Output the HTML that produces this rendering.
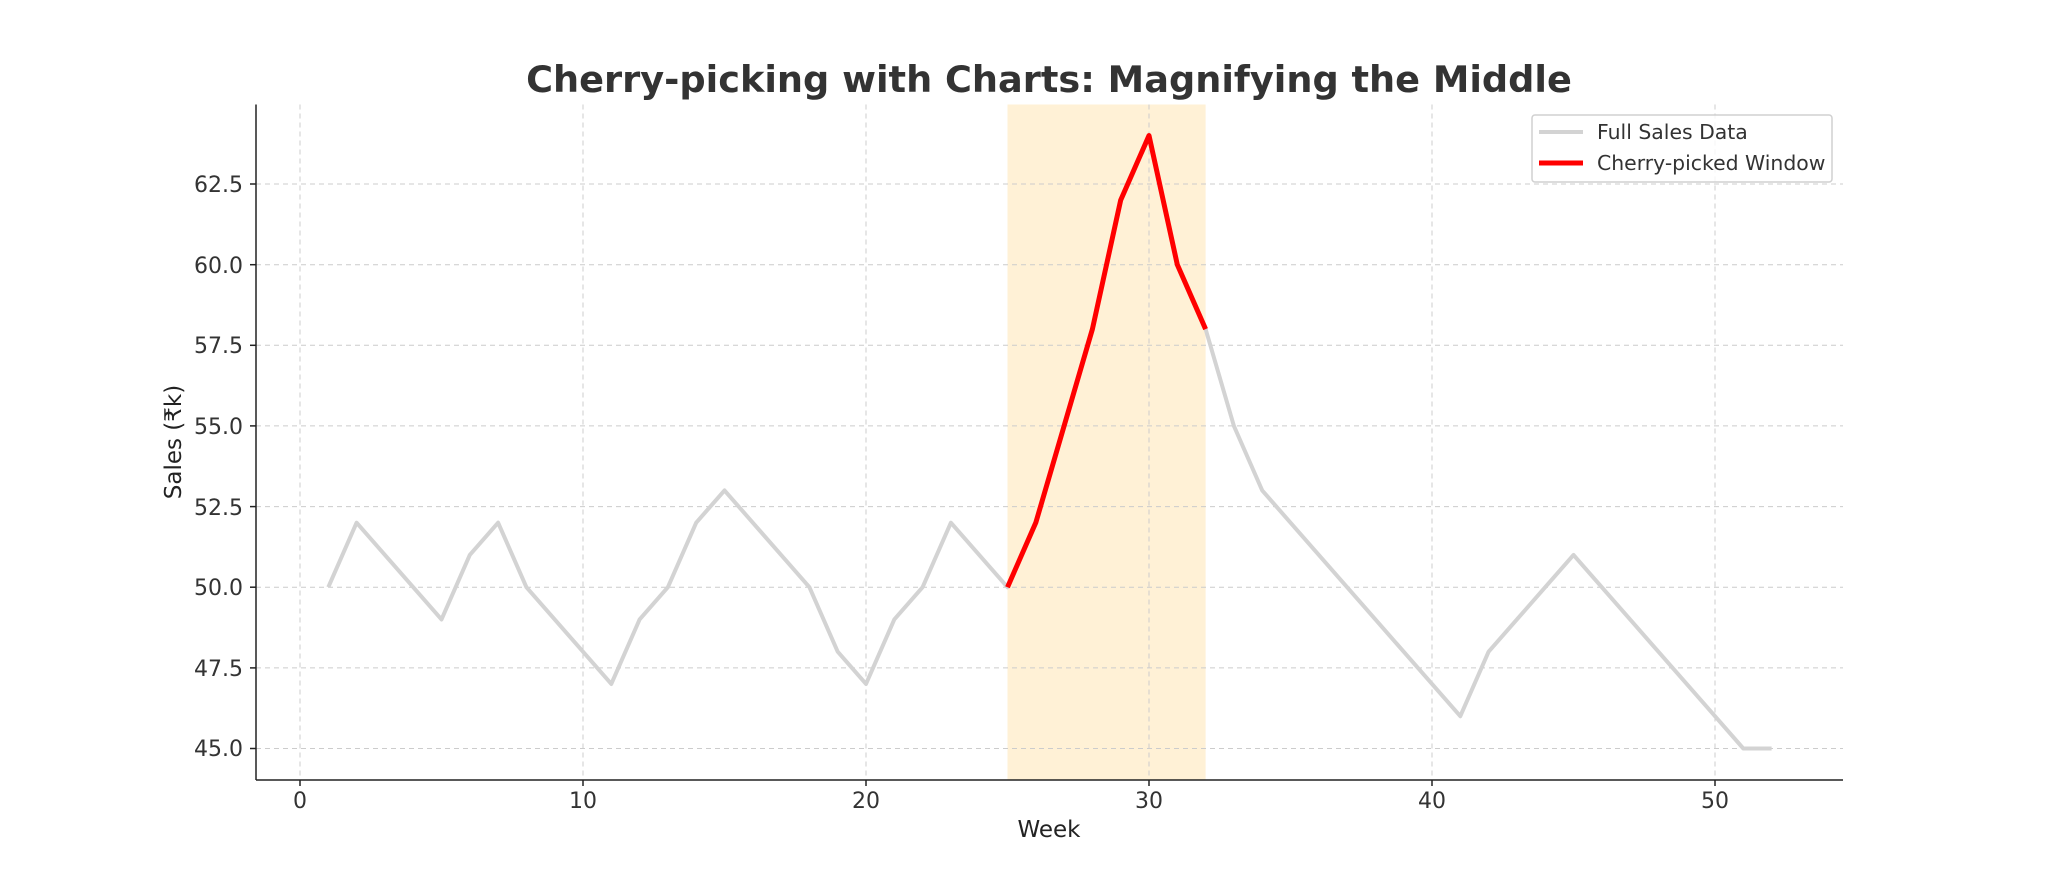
<!DOCTYPE html>
<html><head><meta charset="utf-8"><style>body{margin:0;background:#fff}svg{display:block}text{font-family:"DejaVu Sans","Liberation Sans",sans-serif;fill:#333}</style></head>
<body>
<svg width="2048" height="877" viewBox="0 0 2048 877" xmlns="http://www.w3.org/2000/svg">
<rect width="2048" height="877" fill="#fff"/>
<rect x="1007.5" y="104.5" width="198.1" height="675.5" fill="#ffe5b4" fill-opacity="0.55"/>
<g stroke="#cccccc" stroke-width="1" stroke-dasharray="5,4">
<line x1="300" y1="104.5" x2="300" y2="780"/><line x1="583" y1="104.5" x2="583" y2="780"/><line x1="866" y1="104.5" x2="866" y2="780"/><line x1="1149" y1="104.5" x2="1149" y2="780"/><line x1="1432" y1="104.5" x2="1432" y2="780"/><line x1="1715" y1="104.5" x2="1715" y2="780"/>
<line x1="256" y1="748.5" x2="1843" y2="748.5"/><line x1="256" y1="667.9" x2="1843" y2="667.9"/><line x1="256" y1="587.2" x2="1843" y2="587.2"/><line x1="256" y1="506.6" x2="1843" y2="506.6"/><line x1="256" y1="425.9" x2="1843" y2="425.9"/><line x1="256" y1="345.3" x2="1843" y2="345.3"/><line x1="256" y1="264.7" x2="1843" y2="264.7"/><line x1="256" y1="184" x2="1843" y2="184"/>
</g>
<g transform="translate(300,748.5) scale(28.3,-32.26) translate(0,-45)" fill="none" stroke-linejoin="round">
<polyline vector-effect="non-scaling-stroke" stroke="#d3d3d3" stroke-width="4" points="1,50 2,52 3,51 4,50 5,49 6,51 7,52 8,50 9,49 10,48 11,47 12,49 13,50 14,52 15,53 16,52 17,51 18,50 19,48 20,47 21,49 22,50 23,52 24,51 25,50 26,52 27,55 28,58 29,62 30,64 31,60 32,58 33,55 34,53 35,52 36,51 37,50 38,49 39,48 40,47 41,46 42,48 43,49 44,50 45,51 46,50 47,49 48,48 49,47 50,46 51,45 52,45"/>
<polyline vector-effect="non-scaling-stroke" stroke="#ff0000" stroke-width="5" points="25,50 26,52 27,55 28,58 29,62 30,64 31,60 32,58"/>
</g>
<g stroke="#222" stroke-width="1.5">
<line x1="256" y1="104.5" x2="256" y2="780"/><line x1="256" y1="780" x2="1843" y2="780"/>
<line x1="300" y1="780" x2="300" y2="786"/><line x1="583" y1="780" x2="583" y2="786"/><line x1="866" y1="780" x2="866" y2="786"/><line x1="1149" y1="780" x2="1149" y2="786"/><line x1="1432" y1="780" x2="1432" y2="786"/><line x1="1715" y1="780" x2="1715" y2="786"/>
<line x1="250" y1="748.5" x2="256" y2="748.5"/><line x1="250" y1="667.9" x2="256" y2="667.9"/><line x1="250" y1="587.2" x2="256" y2="587.2"/><line x1="250" y1="506.6" x2="256" y2="506.6"/><line x1="250" y1="425.9" x2="256" y2="425.9"/><line x1="250" y1="345.3" x2="256" y2="345.3"/><line x1="250" y1="264.7" x2="256" y2="264.7"/><line x1="250" y1="184" x2="256" y2="184"/>
</g>
<g font-size="22" text-anchor="middle" style="fill:#222">
<text x="300" y="808">0</text><text x="583" y="808">10</text><text x="866" y="808">20</text><text x="1149" y="808">30</text><text x="1432" y="808">40</text><text x="1715" y="808">50</text>
</g>
<g font-size="22" text-anchor="end" style="fill:#222">
<text x="243" y="756">45.0</text><text x="243" y="676">47.5</text><text x="243" y="595">50.0</text><text x="243" y="515">52.5</text><text x="243" y="434">55.0</text><text x="243" y="353">57.5</text><text x="243" y="273">60.0</text><text x="243" y="192">62.5</text>
</g>
<text x="1049" y="837" font-size="23" text-anchor="middle" style="fill:#222">Week</text>
<text transform="translate(181,442) rotate(-90)" font-size="23" text-anchor="middle" style="fill:#222">Sales (₹k)</text>
<text x="1049" y="92" font-size="36.7" font-weight="bold" text-anchor="middle">Cherry-picking with Charts: Magnifying the Middle</text>
<rect x="1532" y="115" width="300" height="67" fill="#fff" fill-opacity="0.8" stroke="#d0d0d0" stroke-width="1.5" rx="3"/>
<line x1="1539" y1="132" x2="1583" y2="132" stroke="#d3d3d3" stroke-width="4"/>
<line x1="1539" y1="163" x2="1583" y2="163" stroke="#ff0000" stroke-width="5"/>
<text x="1597" y="139" font-size="20.4">Full Sales Data</text>
<text x="1597" y="170" font-size="20.4">Cherry-picked Window</text>
</svg>
</body></html>
